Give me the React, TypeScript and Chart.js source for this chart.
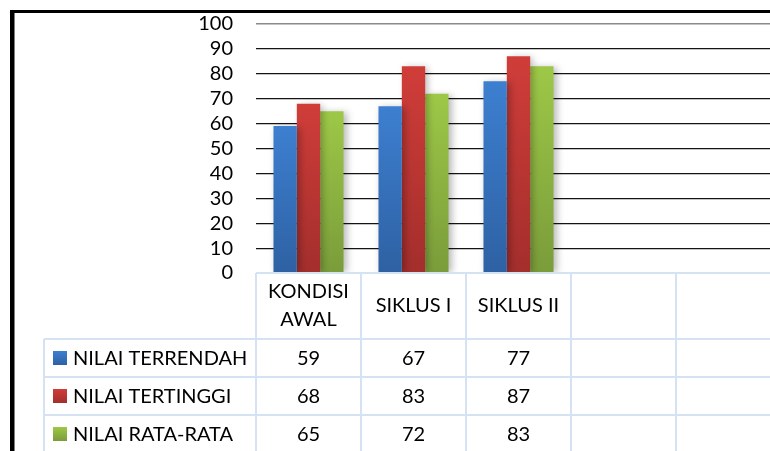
import React, { useEffect, useRef } from "react";
import { Chart, registerables } from "chart.js";

Chart.register(...registerables);

const categories: (string | string[])[] = [["KONDISI", "AWAL"], "SIKLUS I", "SIKLUS II", "", ""];
const seriesNames = ["NILAI TERRENDAH", "NILAI TERTINGGI", "NILAI RATA-RATA"];
const lowest = [59, 67, 77, null, null];
const highest = [68, 83, 87, null, null];
const average = [65, 72, 83, null, null];
const yTicks = [0, 10, 20, 30, 40, 50, 60, 70, 80, 90, 100];

const topColors = ["#3D7FD0", "#D03D39", "#9DC847"];
const bottomColors = ["#2E61A3", "#A32E2C", "#7A9C3A"];

const FONT = "Lato, 'Liberation Sans', sans-serif";
const FS = 20;

export default function App() {
  const ref = useRef<HTMLCanvasElement | null>(null);

  useEffect(() => {
    if (!ref.current) return;
    const seriesData = [lowest, highest, average];

    const gradFor = (i: number) => (c: any) => {
      const chart = c.chart;
      const area = chart.chartArea;
      if (!area || c.type !== "data" || c.raw == null) return topColors[i];
      const y = chart.scales.y.getPixelForValue(c.raw);
      const g = chart.ctx.createLinearGradient(0, y, 0, area.bottom);
      g.addColorStop(0, topColors[i]);
      g.addColorStop(1, bottomColors[i]);
      return g;
    };

    const shadowPlugin = {
      id: "shadow",
      beforeDatasetsDraw(chart: any) {
        const ctx = chart.ctx;
        ctx.save();
        ctx.shadowColor = "rgba(0,0,0,0.28)";
        ctx.shadowBlur = 7;
        ctx.shadowOffsetX = 3;
        ctx.shadowOffsetY = 1;
      },
      afterDatasetsDraw(chart: any) {
        chart.ctx.restore();
      },
    };

    const tablePlugin = {
      id: "table",
      afterDraw(chart: any) {
        const ctx = chart.ctx;
        const area = chart.chartArea;
        const xs = chart.scales.x;
        const W = chart.width;
        const H = chart.height;
        const n = categories.length;
        const catW = (area.right - area.left) / n;
        const top = area.bottom;
        const headerH = 66;
        const rowH = 38;
        const legendLeft = 44;

        ctx.save();
        ctx.strokeStyle = "#D5E2F3";
        ctx.lineWidth = 2;
        ctx.beginPath();
        ctx.moveTo(area.left, top);
        ctx.lineTo(W, top);
        for (let r = 0; r < 4; r++) {
          const y = top + headerH + r * rowH;
          ctx.moveTo(legendLeft, y);
          ctx.lineTo(W, y);
        }
        for (let i = 0; i <= n; i++) {
          const x = area.left + i * catW;
          ctx.moveTo(x, top);
          ctx.lineTo(x, H);
        }
        ctx.moveTo(legendLeft, top + headerH);
        ctx.lineTo(legendLeft, H);
        ctx.stroke();

        ctx.fillStyle = "#000";
        ctx.font = `${FS}px ${FONT}`;
        ctx.textAlign = "center";
        ctx.textBaseline = "middle";
        categories.forEach((lab, i) => {
          const cx = xs.getPixelForValue(i);
          const lines = Array.isArray(lab) ? lab : [lab];
          const mid = top + headerH / 2;
          const lh = 28;
          lines.forEach((t, k) => {
            ctx.fillText(t, cx, mid + (k - (lines.length - 1) / 2) * lh);
          });
        });
        seriesData.forEach((arr, r) => {
          const cy = top + headerH + r * rowH + rowH / 2;
          const g = ctx.createLinearGradient(0, cy - 7, 0, cy + 7);
          g.addColorStop(0, topColors[r]);
          g.addColorStop(1, bottomColors[r]);
          ctx.fillStyle = g;
          ctx.fillRect(53, cy - 7, 14, 14);
          ctx.fillStyle = "#000";
          ctx.textAlign = "left";
          ctx.fillText(seriesNames[r], 73, cy + 1);
          ctx.textAlign = "center";
          arr.forEach((v, i) => {
            if (v == null) return;
            ctx.fillText(String(v), xs.getPixelForValue(i), cy + 1);
          });
        });

        ctx.fillStyle = "#000";
        ctx.fillRect(10, 10, W - 10, 3);
        ctx.fillRect(10, 10, 4.5, H - 10);
        ctx.restore();
      },
    };

    const chart = new Chart(ref.current, {
      type: "bar",
      data: {
        labels: categories as any,
        datasets: seriesData.map((d, i) => ({
          label: seriesNames[i],
          data: d as any,
          backgroundColor: gradFor(i) as any,
          borderWidth: 0,
          categoryPercentage: 0.667,
          barPercentage: 1,
        })),
      },
      options: {
        animation: false,
        responsive: false,
        maintainAspectRatio: false,
        layout: { padding: { top: 24, right: 9, bottom: 178, left: 0 } },
        plugins: { legend: { display: false }, tooltip: { enabled: false } },
        scales: {
          x: {
            display: false,
            grid: { display: false },
          },
          y: {
            min: 0,
            max: 100,
            afterFit: (s: any) => {
              s.width = 256;
              s.paddingTop = 10;
              s.paddingBottom = 10;
            },
            afterBuildTicks: (s: any) => {
              s.ticks = yTicks.map((v) => ({ value: v }));
            },
            border: { display: false },
            grid: {
              drawTicks: false,
              color: (c: any) => (c.tick && c.tick.value === 100 ? "#8a8a8a" : "#141414"),
              lineWidth: (c: any) => (c.tick && c.tick.value === 100 ? 1.5 : 1.2),
            },
            ticks: {
              autoSkip: false,
              padding: 23,
              color: "#000",
              font: { family: FONT, size: FS },
            },
          },
        },
      },
      plugins: [shadowPlugin, tablePlugin],
    });
    return () => chart.destroy();
  }, []);

  return (
    <div style={{ position: "fixed", left: 0, top: 0, width: 770, height: 451, overflow: "hidden", background: "#fff" }}>
      <canvas ref={ref} width={790} height={451} style={{ display: "block" }} />
    </div>
  );
}
